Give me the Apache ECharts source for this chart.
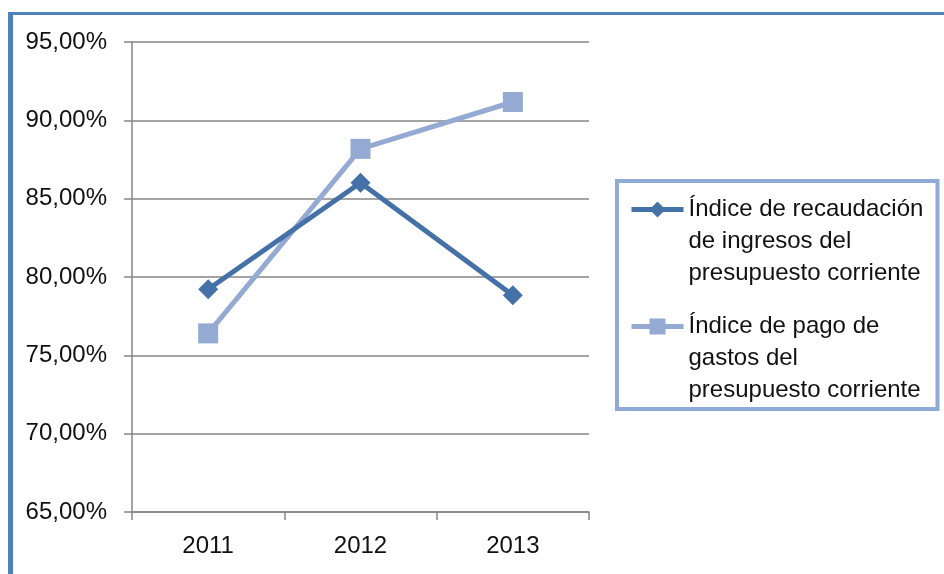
<!DOCTYPE html>
<html>
<head>
<meta charset="utf-8">
<script src="https://cdn.jsdelivr.net/npm/echarts@6/dist/echarts.min.js"></script>
<style>
html,body{margin:0;padding:0;background:#fff;}
#chart{width:944px;height:574px;}
</style>
</head>
<body>
<div id="chart"></div>
<script>
const categories = ['2011', '2012', '2013'];
const seriesNames = [
  'Índice de recaudación\nde ingresos del\npresupuesto corriente',
  'Índice de pago de\ngastos del\npresupuesto corriente'
];
const recaudacion = [79.22, 86.02, 78.84];
const pago = [76.40, 88.18, 91.17];
const yTicks = [65, 70, 75, 80, 85, 90, 95];

const FONT = '"Liberation Sans", Arial, sans-serif';
const AXIS_GRAY = '#868686';
const DARK = '#4471A7';
const LIGHT = '#94AAD3';

const chart = echarts.init(document.getElementById('chart'), null, {renderer: 'canvas'});
chart.setOption({
  animation: false,
  backgroundColor: '#ffffff',
  textStyle: {fontFamily: FONT},
  graphic: [
    {type: 'rect', left: 8, top: 12, shape: {width: 5, height: 570}, style: {fill: '#4F81BD'}, silent: true},
    {type: 'rect', left: 8, top: 12, shape: {width: 940, height: 3}, style: {fill: '#4F81BD'}, silent: true}
  ],
  grid: {left: 132, top: 42, width: 457, height: 470, containLabel: false},
  xAxis: {
    type: 'category',
    data: categories,
    boundaryGap: true,
    axisLine: {lineStyle: {color: AXIS_GRAY, width: 1.5}},
    axisTick: {show: true, length: 8, lineStyle: {color: AXIS_GRAY, width: 1.5}},
    axisLabel: {margin: 22, fontSize: 24, color: '#111', fontFamily: FONT},
    splitLine: {show: false}
  },
  yAxis: {
    type: 'value',
    min: yTicks[0],
    max: yTicks[yTicks.length - 1],
    interval: 5,
    axisLine: {show: true, lineStyle: {color: AXIS_GRAY, width: 1.5}},
    axisTick: {show: true, length: 8, lineStyle: {color: AXIS_GRAY, width: 1.5}},
    axisLabel: {
      margin: 25, fontSize: 24, color: '#111', fontFamily: FONT,
      formatter: v => v.toFixed(2).replace('.', ',') + '%'
    },
    splitLine: {show: true, lineStyle: {color: AXIS_GRAY, width: 1.5}}
  },
  legend: {
    orient: 'vertical',
    left: 617,
    top: 181,
    padding: [-51.5, 9, 2.5, 12],
    itemGap: -43,
    itemWidth: 52,
    itemHeight: 20,
    borderColor: '#8FAAD6',
    borderWidth: 4,
    backgroundColor: '#fff',
    formatter: name => '\n\n' + name,
    lineStyle: {width: 5},
    textStyle: {fontSize: 24, lineHeight: 32, color: '#111', fontFamily: FONT, width: 240},
    data: seriesNames
  },
  series: [
    {
      name: seriesNames[0],
      type: 'line',
      data: recaudacion,
      symbol: 'diamond',
      symbolSize: 20,
      lineStyle: {color: DARK, width: 5},
      itemStyle: {color: DARK},
      z: 3
    },
    {
      name: seriesNames[1],
      type: 'line',
      data: pago,
      symbol: 'rect',
      symbolSize: 20,
      lineStyle: {color: LIGHT, width: 5},
      itemStyle: {color: LIGHT},
      z: 2
    }
  ]
});
</script>
</body>
</html>
